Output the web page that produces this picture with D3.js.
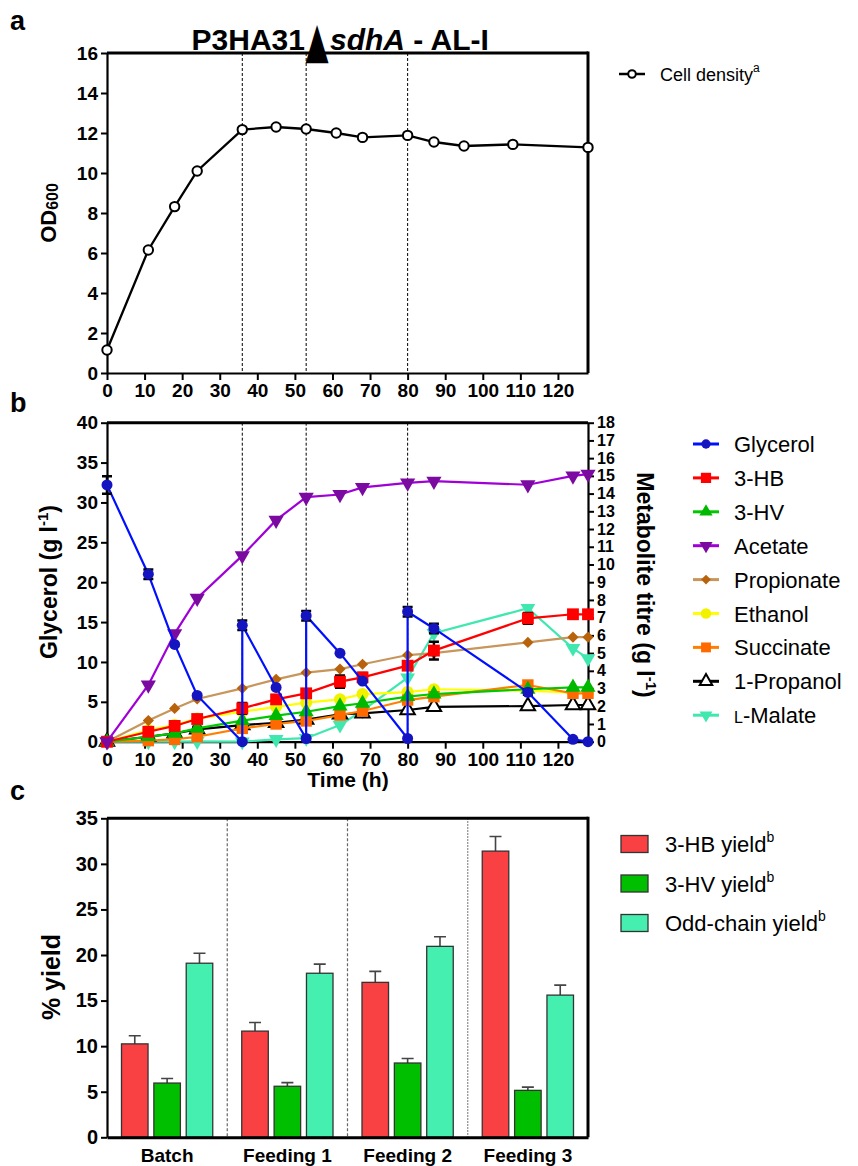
<!DOCTYPE html>
<html>
<head>
<meta charset="utf-8">
<script src="https://cdn.jsdelivr.net/npm/d3@7"></script>
<style>
  body { margin: 0; background: #fff; }
  svg text { font-family: "Liberation Sans", Arial, sans-serif; }
</style>
</head>
<body>
<svg id="chart" width="858" height="1166"></svg>
<script>
// ---- panel a : cell density
var odTime = [0, 11, 18, 24, 36, 45, 53, 61, 68, 80, 87, 95, 108, 128];
var od600 = [1.15, 6.15, 8.32, 10.1, 12.17, 12.3, 12.2, 12.0, 11.78, 11.88, 11.55, 11.35, 11.43, 11.28];

// feeding times (dashed lines)
var feeds = [36, 53, 80];
var xTicks = [0, 10, 20, 30, 40, 50, 60, 70, 80, 90, 100, 110, 120];

// ---- panel b : glycerol (left axis)
var glyTime = [0, 11, 18, 24, 36, 36, 45, 53, 53, 62, 68, 80, 80, 87, 112, 124, 128];
var glycerol = [32.2, 21.0, 12.2, 5.8, 0.0, 14.6, 6.8, 0.4, 15.8, 11.1, 7.6, 0.4, 16.3, 14.2, 6.2, 0.3, 0.0];
var glyErr = [1.1, 0.6, 0, 0, 0, 0.6, 0, 0, 0.6, 0, 0, 0, 0.6, 0.6, 0.3, 0, 0];

// metabolites (right axis, g/l)
var metTime = [0, 11, 18, 24, 36, 45, 53, 62, 68, 80, 87, 112, 124, 128];
var hb = [0, 0.56, 0.89, 1.28, 1.88, 2.39, 2.73, 3.39, 3.63, 4.29, 5.14, 6.96, 7.19, 7.19];
var hbErr = [0, 0, 0, 0, 0.3, 0, 0, 0.35, 0.25, 0, 0.5, 0.3, 0, 0];
var hv = [0, 0.28, 0.47, 0.75, 1.19, 1.47, 1.69, 2.01, 2.17, 2.54, 2.69, 2.96, 3.07, 3.07];
var acetate = [0, 3.2, 6.1, 8.1, 10.5, 12.5, 13.8, 13.95, 14.35, 14.6, 14.7, 14.5, 15.0, 15.1];
var propionate = [0, 1.19, 1.88, 2.41, 3.01, 3.52, 3.9, 4.1, 4.37, 4.89, 5.0, 5.6, 5.9, 5.9];
var ethanol = [0, 0.66, 0.94, 1.3, 1.69, 1.97, 2.2, 2.39, 2.69, 2.8, 2.96, 2.88, 2.77, 2.77];
var succinate = [0, 0.06, 0.13, 0.28, 0.75, 1.0, 1.17, 1.5, 1.73, 2.35, 2.54, 3.2, 2.73, 2.73];
var propanol = [0, 0.28, 0.47, 0.7, 0.94, 1.07, 1.25, 1.55, 1.6, 1.79, 1.97, 2.01, 2.07, 2.07];
var propanolErr = [0, 0, 0, 0.15, 0, 0, 0, 0, 0.1, 0, 0, 0, 0, 0];
var malate = [0, 0, 0, 0.02, 0, 0.13, 0.2, 0.94, 1.75, 3.61, 6.12, 7.53, 5.27, 4.7];

// ---- panel c : yields
var phases = ["Batch", "Feeding 1", "Feeding 2", "Feeding 3"];
var yieldKeys = ["3-HB yield", "3-HV yield", "Odd-chain yield"];
var hbYield = [10.25, 11.65, 17.0, 31.4];
var hbYieldErr = [0.9, 0.95, 1.2, 1.6];
var hvYield = [5.95, 5.6, 8.15, 5.15];
var hvYieldErr = [0.5, 0.4, 0.5, 0.35];
var oddYield = [19.1, 18.0, 20.95, 15.6];
var oddYieldErr = [1.1, 1.0, 1.05, 1.1];

var svg = d3.select("#chart");

// shared x scale for a and b
var x = d3.scaleLinear().domain([0, 128]).range([107, 588]);

function frame(g, left, right, top, bottom) {
  g.append("line").attr("x1", left).attr("x2", right).attr("y1", top).attr("y2", top)
    .attr("stroke", "#000").attr("stroke-width", 3);
  g.append("line").attr("x1", right).attr("x2", right).attr("y1", top - 1.5).attr("y2", bottom)
    .attr("stroke", "#000").attr("stroke-width", 3);
}

function styleAxis(sel, size) {
  sel.selectAll(".domain").attr("stroke-width", 2.2);
  sel.selectAll(".tick line").attr("stroke-width", 2);
  sel.selectAll(".tick text").style("font-weight", "bold").style("font-size", (size || 19) + "px").attr("fill", "#000");
}

function panelLetter(t, y) {
  svg.append("text").attr("x", 10).attr("y", y).text(t)
    .style("font-size", "27px").style("font-weight", "bold");
}

// =================== PANEL A ===================
var ya = d3.scaleLinear().domain([0, 16]).range([373, 53]);
var ga = svg.append("g");
panelLetter("a", 30);

// title, in three pieces so the big delta sits tight between them
svg.append("text").attr("x", 305).attr("y", 50).attr("text-anchor", "end")
  .style("font-size", "30px").style("font-weight", "bold").text("P3HA31");
svg.append("text").attr("transform", "translate(317,57) scale(0.6,1)").attr("text-anchor", "middle")
  .style("font-family", "DejaVu Sans, sans-serif").style("font-size", "50px").text("▲");
var title = svg.append("text").attr("x", 330).attr("y", 50)
  .style("font-size", "30px").style("font-weight", "bold");
title.append("tspan").text("sdhA").style("font-style", "italic");
title.append("tspan").text(" - AL-I");

ga.selectAll(".feed").data(feeds).enter().append("line")
  .attr("x1", d => x(d)).attr("x2", d => x(d)).attr("y1", ya(16)).attr("y2", ya(0))
  .attr("stroke", "#000").attr("stroke-width", 1).attr("stroke-dasharray", "3,2");

frame(ga, x(0), x(128), ya(16), ya(0));
var axa = ga.append("g").attr("transform", "translate(0," + ya(0) + ")")
  .call(d3.axisBottom(x).tickValues(xTicks).tickSize(7).tickPadding(4).tickSizeOuter(0));
styleAxis(axa);
var aya = ga.append("g").attr("transform", "translate(" + x(0) + ",0)")
  .call(d3.axisLeft(ya).ticks(8).tickSize(6).tickPadding(3).tickSizeOuter(0));
styleAxis(aya);

var odLine = d3.line().x((d, i) => x(odTime[i])).y(d => ya(d));
ga.append("path").datum(od600).attr("d", odLine).attr("fill", "none")
  .attr("stroke", "#000").attr("stroke-width", 2.3);
ga.selectAll(".od").data(od600).enter().append("circle")
  .attr("cx", (d, i) => x(odTime[i])).attr("cy", d => ya(d)).attr("r", 4.7)
  .attr("fill", "#fff").attr("stroke", "#000").attr("stroke-width", 2);

var odLab = svg.append("text").attr("transform", "translate(56,213) rotate(-90)")
  .attr("text-anchor", "middle").style("font-size", "22px").style("font-weight", "bold");
odLab.append("tspan").text("OD");
odLab.append("tspan").text("600").style("font-size", "16px").attr("dy", 2);

// legend a
svg.append("line").attr("x1", 619).attr("x2", 645).attr("y1", 74).attr("y2", 74)
  .attr("stroke", "#000").attr("stroke-width", 2.5);
svg.append("circle").attr("cx", 632).attr("cy", 74).attr("r", 3.8)
  .attr("fill", "#fff").attr("stroke", "#000").attr("stroke-width", 2);
var cdl = svg.append("text").attr("x", 660).attr("y", 81).style("font-size", "18px");
cdl.append("tspan").text("Cell density");
cdl.append("tspan").text("a").style("font-size", "12px").attr("dy", -9);

// =================== PANEL B ===================
var yb = d3.scaleLinear().domain([0, 40]).range([741.7, 422.7]);
var yr = d3.scaleLinear().domain([0, 18]).range([741.7, 422.7]);
var gb = svg.append("g");
panelLetter("b", 412);

gb.selectAll(".feed").data(feeds).enter().append("line")
  .attr("x1", d => x(d)).attr("x2", d => x(d)).attr("y1", yb(40)).attr("y2", yb(0))
  .attr("stroke", "#000").attr("stroke-width", 1).attr("stroke-dasharray", "3,2");

gb.append("line").attr("x1", x(0)).attr("x2", x(128)).attr("y1", yb(40)).attr("y2", yb(40))
  .attr("stroke", "#000").attr("stroke-width", 3);

var axb = gb.append("g").attr("transform", "translate(0," + yb(0) + ")")
  .call(d3.axisBottom(x).tickValues(xTicks).tickSize(7).tickPadding(4).tickSizeOuter(0));
styleAxis(axb);
var ayb = gb.append("g").attr("transform", "translate(" + x(0) + ",0)")
  .call(d3.axisLeft(yb).ticks(8).tickSize(6).tickPadding(3).tickSizeOuter(0));
styleAxis(ayb);
var ayr = gb.append("g").attr("transform", "translate(" + x(128) + ",0)")
  .call(d3.axisRight(yr).ticks(18).tickSize(6).tickPadding(3).tickSizeOuter(0));
styleAxis(ayr, 16);

var series = [
  { name: "L-Malate", vals: malate, line: "#40e8b0", mark: "#40e8b0", sym: "down", size: 95 },
  { name: "1-Propanol", vals: propanol, err: propanolErr, line: "#000", mark: "#fff", sym: d3.symbolTriangle, size: 90, open: true },
  { name: "Ethanol", vals: ethanol, line: "#ffff00", mark: "#f2f200", sym: d3.symbolCircle, size: 115 },
  { name: "Succinate", vals: succinate, line: "#ff8000", mark: "#ff6a00", sym: d3.symbolSquare, size: 130 },
  { name: "3-HV", vals: hv, line: "#00c800", mark: "#00b800", sym: d3.symbolTriangle, size: 100 },
  { name: "Propionate", vals: propionate, line: "#c8955a", mark: "#b8620c", sym: d3.symbolDiamond2 || d3.symbolDiamond, size: 80 },
  { name: "3-HB", vals: hb, err: hbErr, line: "#ff0000", mark: "#ff0000", sym: d3.symbolSquare, size: 140 },
  { name: "Acetate", vals: acetate, line: "#a000d8", mark: "#7b0aa0", sym: "down", size: 100 }
];

function symPath(s, k) {
  var t = s.sym === "down" ? d3.symbolTriangle : s.sym;
  return d3.symbol().type(t).size(s.size * (k || 1))();
}

function errBars(g, xs, ys, es, sc) {
  var pts = ys.map((d, i) => ({ t: xs[i], v: d, e: es[i] })).filter(p => p.e > 0);
  g.selectAll(null).data(pts).enter().append("path")
    .attr("d", p => {
      var x0 = x(p.t), y1 = sc(p.v + p.e), y2 = sc(p.v - p.e);
      return "M" + x0 + "," + y1 + "V" + y2 + "M" + (x0 - 5) + "," + y1 + "H" + (x0 + 5) +
        "M" + (x0 - 5) + "," + y2 + "H" + (x0 + 5);
    })
    .attr("stroke", "#000").attr("stroke-width", 2.5).attr("fill", "none");
}

series.forEach(function (s) {
  var g = gb.append("g");
  g.append("path").datum(s.vals)
    .attr("d", d3.line().x((d, i) => x(metTime[i])).y(d => yr(d)))
    .attr("fill", "none").attr("stroke", s.line).attr("stroke-width", 2.2);
  if (s.err) errBars(g, metTime, s.vals, s.err, yr);
  g.selectAll(null).data(s.vals).enter().append("path")
    .attr("d", symPath(s))
    .attr("transform", (d, i) => "translate(" + x(metTime[i]) + "," + yr(d) + ")" + (s.sym === "down" ? " rotate(180)" : ""))
    .attr("fill", s.mark).attr("stroke", s.open ? "#000" : "none").attr("stroke-width", 2);
});

// glycerol on top
var gg = gb.append("g");
gg.append("path").datum(glycerol)
  .attr("d", d3.line().x((d, i) => x(glyTime[i])).y(d => yb(d)))
  .attr("fill", "none").attr("stroke", "#0010ff").attr("stroke-width", 2.2);
errBars(gg, glyTime, glycerol, glyErr, yb);
gg.selectAll(null).data(glycerol).enter().append("circle")
  .attr("cx", (d, i) => x(glyTime[i])).attr("cy", d => yb(d)).attr("r", 5.5)
  .attr("fill", "#1414c0");

var glyLab = svg.append("text").attr("transform", "translate(57,582) rotate(-90)")
  .attr("text-anchor", "middle").style("font-size", "23px").style("font-weight", "bold");
glyLab.append("tspan").text("Glycerol (g l");
glyLab.append("tspan").text("-1").style("font-size", "15px").attr("dy", -9);
glyLab.append("tspan").text(")").attr("dy", 9);

var metLab = svg.append("text").attr("transform", "translate(637,585) rotate(90)")
  .attr("text-anchor", "middle").style("font-size", "23px").style("font-weight", "bold");
metLab.append("tspan").text("Metabolite titre (g l");
metLab.append("tspan").text("-1").style("font-size", "15px").attr("dy", -9);
metLab.append("tspan").text(")").attr("dy", 9);

svg.append("text").attr("x", 348).attr("y", 787).attr("text-anchor", "middle")
  .style("font-size", "21px").style("font-weight", "bold").text("Time (h)");

// legend b
var legendB = [
  { name: "Glycerol", line: "#0010ff", mark: "#1414c0", sym: d3.symbolCircle, size: 90 }
].concat([6, 4, 7, 5, 2, 3, 1, 0].map(i => series[i]));
var lb = svg.append("g");
legendB.forEach(function (s, i) {
  var yy = 444 + i * 33.9;
  lb.append("line").attr("x1", 693).attr("x2", 719).attr("y1", yy).attr("y2", yy)
    .attr("stroke", s.line).attr("stroke-width", 3);
  lb.append("path").attr("d", symPath(s, 0.75))
    .attr("transform", "translate(706," + yy + ")" + (s.sym === "down" ? " rotate(180)" : ""))
    .attr("fill", s.mark).attr("stroke", s.open ? "#000" : "none").attr("stroke-width", 2);
  var t = lb.append("text").attr("x", 734).attr("y", yy + 8).style("font-size", "22px");
  if (s.name === "L-Malate") {
    t.append("tspan").text("L").style("font-size", "16px");
    t.append("tspan").text("-Malate");
  } else t.text(s.name);
});

// =================== PANEL C ===================
var yc = d3.scaleLinear().domain([0, 35]).range([1137.3, 818.3]);
var xc = d3.scaleBand().domain(phases).range([107, 588]);
var xs = d3.scaleBand().domain(yieldKeys).range([14.5, xc.bandwidth() - 14.5]).paddingInner(0.18);
var barColors = ["#f94144", "#00bf00", "#44efb0"];
var yieldVals = [hbYield, hvYield, oddYield];
var yieldErrs = [hbYieldErr, hvYieldErr, oddYieldErr];
var gc = svg.append("g");
panelLetter("c", 800);

phases.slice(1).forEach(function (p, i) {
  gc.append("line").attr("x1", xc(p)).attr("x2", xc(p)).attr("y1", yc(35)).attr("y2", yc(0))
    .attr("stroke", "#666").attr("stroke-width", 1.2).attr("stroke-dasharray", i === 2 ? "1.5,1.5" : "3,2");
});

yieldKeys.forEach(function (k, j) {
  var vals = yieldVals[j], errs = yieldErrs[j];
  gc.selectAll(null).data(vals).enter().append("path")
    .attr("d", (d, i) => {
      var cx = xc(phases[i]) + xs(k) + xs.bandwidth() / 2;
      return "M" + cx + "," + yc(d) + "V" + yc(d + errs[i]) + "M" + (cx - 6) + "," + yc(d + errs[i]) + "H" + (cx + 6);
    })
    .attr("stroke", "#444").attr("stroke-width", 1.6).attr("fill", "none");
  gc.selectAll(null).data(vals).enter().append("rect")
    .attr("x", (d, i) => xc(phases[i]) + xs(k))
    .attr("width", xs.bandwidth())
    .attr("y", d => yc(d)).attr("height", d => yc(0) - yc(d))
    .attr("fill", barColors[j]).attr("stroke", "#333").attr("stroke-width", 1.3);
});

frame(gc, 107, 588, yc(35), yc(0));
var axc = gc.append("g").attr("transform", "translate(0," + yc(0) + ")")
  .call(d3.axisBottom(xc).tickSize(0).tickPadding(11));
styleAxis(axc, 19);
axc.select(".domain").attr("stroke-width", 3);
var ayc = gc.append("g").attr("transform", "translate(107,0)")
  .call(d3.axisLeft(yc).ticks(7).tickSize(6).tickPadding(3).tickSizeOuter(0));
styleAxis(ayc, 20);

svg.append("text").attr("transform", "translate(60,977) rotate(-90)")
  .attr("text-anchor", "middle").style("font-size", "25px").style("font-weight", "bold").text("% yield");

var lc = svg.append("g");
yieldKeys.forEach(function (k, j) {
  var yy = 844 + j * 39.5;
  lc.append("rect").attr("x", 621).attr("y", yy - 8.5).attr("width", 27).attr("height", 17)
    .attr("fill", barColors[j]).attr("stroke", "#333").attr("stroke-width", 1.3);
  var t = lc.append("text").attr("x", 665).attr("y", yy + 8).style("font-size", "22px");
  t.append("tspan").text(k);
  t.append("tspan").text("b").style("font-size", "14px").attr("dy", -10);
});
</script>
</body>
</html>
